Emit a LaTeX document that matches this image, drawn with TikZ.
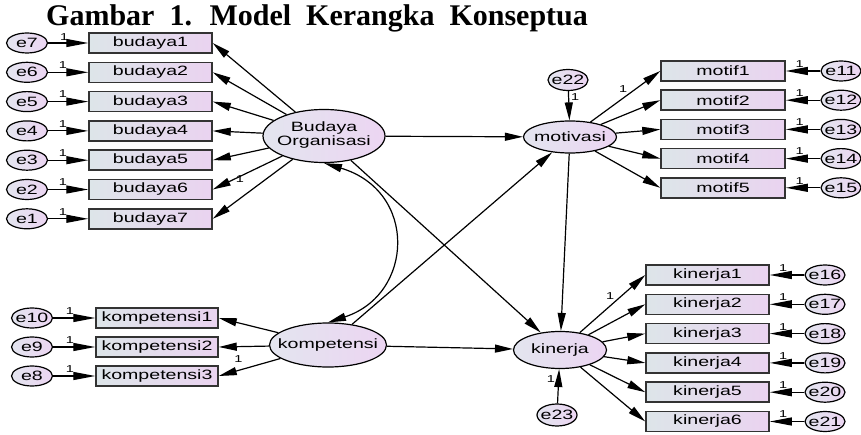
\documentclass[tikz,border=0pt]{standalone}
\usepackage{fontspec}
\setmainfont{Liberation Serif}
\newfontfamily\amosfont[FakeStretch=1.45]{Liberation Sans}
\usepackage{tikz}
\usetikzlibrary{arrows.meta}
\usetikzlibrary{shapes.geometric}
\definecolor{boxleft}{HTML}{DDE5E9}
\definecolor{boxright}{HTML}{EAD3F0}
\definecolor{ovalleft}{HTML}{E3E5EF}
\definecolor{ovalright}{HTML}{ECD5F2}
\definecolor{edgegrey}{HTML}{333333}
\newcommand{\ovaltext}[1]{\makebox[0pt]{#1}}
\tikzset{
  obs/.style={rectangle, draw=edgegrey, line width=1.5pt, left color=boxleft, right color=boxright,
    minimum width=123pt, minimum height=20pt, inner sep=0pt,
    font=\amosfont\fontsize{13.5}{15}\selectfont},
  lat/.style={ellipse, draw=black, line width=1.2pt, left color=ovalleft, right color=ovalright,
    inner sep=0pt, font=\amosfont\fontsize{13.5}{15}\selectfont},
  err/.style={lat, minimum width=41pt, minimum height=20pt},
  reg/.style={-{Triangle[length=18pt,width=8pt]}, line width=1.2pt},
  errarrow/.style={-{Triangle[length=22pt,width=8pt]}, line width=1.2pt},
  one/.style={font=\amosfont\fontsize{10}{11}\selectfont, inner sep=0pt}
}
\begin{document}
\begin{tikzpicture}[x=1pt, y=-1pt]
  \useasboundingbox (0,0) rectangle (861,435);

  \node [anchor=base west, inner sep=0pt, text depth=0pt, font=\fontsize{30}{32}\selectfont\bfseries] (title) at (46,26)
    {\spaceskip=15pt Gambar 1. Model Kerangka Konseptua};

  \node [lat, minimum width=122pt, minimum height=53pt] (budaya) at (324,136)
    {\ovaltext{\begin{tabular}{@{}c@{}}Budaya\\[-1pt]Organisasi\end{tabular}}};
  \node [lat, minimum width=117pt, minimum height=44pt] (komp) at (328,345) {\ovaltext{kompetensi}};
  \node [lat, minimum width=93pt, minimum height=32pt] (motivasi) at (570,137) {\ovaltext{motivasi}};
  \node [lat, minimum width=93pt, minimum height=37pt] (kinerja) at (560,350) {\ovaltext{kinerja}};

  \node [obs] (b1) at (150.5,43) {budaya1};
  \node [obs] (b2) at (150.5,72.3) {budaya2};
  \node [obs] (b3) at (150.5,101.6) {budaya3};
  \node [obs] (b4) at (150.5,130.9) {budaya4};
  \node [obs] (b5) at (150.5,160.2) {budaya5};
  \node [obs] (b6) at (150.5,189.5) {budaya6};
  \node [obs] (b7) at (150.5,218.8) {budaya7};

  \node [err] (e7) at (27,43) {\ovaltext{e7}};
  \node [err] (e6) at (27,72.3) {\ovaltext{e6}};
  \node [err] (e5) at (27,101.6) {\ovaltext{e5}};
  \node [err] (e4) at (27,130.9) {\ovaltext{e4}};
  \node [err] (e3) at (27,160.2) {\ovaltext{e3}};
  \node [err] (e2) at (27,189.5) {\ovaltext{e2}};
  \node [err] (e1) at (27,218.8) {\ovaltext{e1}};

  \node [obs, minimum width=122pt] (k1) at (157,318) {kompetensi1};
  \node [obs, minimum width=122pt] (k2) at (157,347) {kompetensi2};
  \node [obs, minimum width=122pt] (k3) at (157,376) {kompetensi3};

  \node [err] (e10) at (32,318) {\ovaltext{e10}};
  \node [err] (e9) at (32,347) {\ovaltext{e9}};
  \node [err] (e8) at (32,376) {\ovaltext{e8}};

  \node [obs, minimum width=124pt] (m1) at (723,71) {motif1};
  \node [obs, minimum width=124pt] (m2) at (723,100.2) {motif2};
  \node [obs, minimum width=124pt] (m3) at (723,129.4) {motif3};
  \node [obs, minimum width=124pt] (m4) at (723,158.6) {motif4};
  \node [obs, minimum width=124pt] (m5) at (723,187.8) {motif5};

  \node [err, minimum width=40pt] (e11) at (841,71) {\ovaltext{e11}};
  \node [err, minimum width=40pt] (e12) at (841,100.2) {\ovaltext{e12}};
  \node [err, minimum width=40pt] (e13) at (841,129.4) {\ovaltext{e13}};
  \node [err, minimum width=40pt] (e14) at (841,158.6) {\ovaltext{e14}};
  \node [err, minimum width=40pt] (e15) at (841,187.8) {\ovaltext{e15}};

  \node [obs] (p1) at (707.5,275) {kinerja1};
  \node [obs] (p2) at (707.5,304.3) {kinerja2};
  \node [obs] (p3) at (707.5,333.6) {kinerja3};
  \node [obs] (p4) at (707.5,362.9) {kinerja4};
  \node [obs] (p5) at (707.5,392.2) {kinerja5};
  \node [obs] (p6) at (707.5,421.5) {kinerja6};

  \node [err, minimum width=40pt] (e16) at (825,275) {\ovaltext{e16}};
  \node [err, minimum width=40pt] (e17) at (825,304.3) {\ovaltext{e17}};
  \node [err, minimum width=40pt] (e18) at (825,333.6) {\ovaltext{e18}};
  \node [err, minimum width=40pt] (e19) at (825,362.9) {\ovaltext{e19}};
  \node [err, minimum width=40pt] (e20) at (825,392.2) {\ovaltext{e20}};
  \node [err, minimum width=40pt] (e21) at (825,421.5) {\ovaltext{e21}};

  \node [err, minimum width=40pt, minimum height=21pt] (e22) at (568,80) {\ovaltext{e22}};
  \node [err, minimum width=40pt, minimum height=22pt] (e23) at (557,415) {\ovaltext{e23}};

  \draw [errarrow] (e7) -- node [one, pos=0.4, above=2pt] {1} (b1);
  \draw [errarrow] (e6) -- node [one, pos=0.37, above=3pt] {1} (b2);
  \draw [errarrow] (e5) -- node [one, pos=0.37, above=3pt] {1} (b3);
  \draw [errarrow] (e4) -- node [one, pos=0.37, above=3pt] {1} (b4);
  \draw [errarrow] (e3) -- node [one, pos=0.37, above=3pt] {1} (b5);
  \draw [errarrow] (e2) -- node [one, pos=0.37, above=3pt] {1} (b6);
  \draw [errarrow] (e1) -- node [one, pos=0.37, above=3pt] {1} (b7);

  \draw [errarrow] (e10) -- node [one, pos=0.4, above=3pt] {1} (k1);
  \draw [errarrow] (e9) -- node [one, pos=0.4, above=3pt] {1} (k2);
  \draw [errarrow] (e8) -- node [one, pos=0.4, above=3pt] {1} (k3);

  \draw [errarrow] (e11) -- node [one, pos=0.6, above=3pt] {1} (m1);
  \draw [errarrow] (e12) -- node [one, pos=0.6, above=3pt] {1} (m2);
  \draw [errarrow] (e13) -- node [one, pos=0.6, above=3pt] {1} (m3);
  \draw [errarrow] (e14) -- node [one, pos=0.6, above=3pt] {1} (m4);
  \draw [errarrow] (e15) -- node [one, pos=0.6, above=3pt] {1} (m5);

  \draw [errarrow] (e16) -- node [one, pos=0.61, above=3pt] {1} (p1);
  \draw [errarrow] (e17) -- node [one, pos=0.61, above=3pt] {1} (p2);
  \draw [errarrow] (e18) -- node [one, pos=0.61, above=3pt] {1} (p3);
  \draw [errarrow] (e19) -- node [one, pos=0.61, above=3pt] {1} (p4);
  \draw [errarrow] (e20) -- node [one, pos=0.61, above=3pt] {1} (p5);
  \draw [errarrow] (e21) -- node [one, pos=0.61, above=3pt] {1} (p6);

  \draw [reg] (budaya) -- (b1.east);
  \draw [reg] (budaya) -- (b2.east);
  \draw [reg] (budaya) -- (b3.east);
  \draw [reg] (budaya) -- (b4.east);
  \draw [reg] (budaya) -- (b5.east);
  \draw [reg] (budaya) -- node [one, pos=0.69, right=1pt] {1} (b6.east);
  \draw [reg] (budaya) -- (b7.east);

  \draw [reg] (komp) -- (k1.east);
  \draw [reg] (komp) -- (k2.east);
  \draw [reg] (komp) -- node [one, pos=0.68, above=7pt] {1} (k3.east);

  \draw [reg] (motivasi) -- node [one, pos=0.55, above left=1pt] {1} (m1.west);
  \draw [reg] (motivasi) -- (m2.west);
  \draw [reg] (motivasi) -- (m3.west);
  \draw [reg] (motivasi) -- (m4.west);
  \draw [reg] (motivasi) -- (m5.west);

  \draw [reg] (kinerja) -- node [one, pos=0.55, above left=1pt] {1} (p1.west);
  \draw [reg] (kinerja) -- (p2.west);
  \draw [reg] (kinerja) -- (p3.west);
  \draw [reg] (kinerja) -- (p4.west);
  \draw [reg] (kinerja) -- (p5.west);
  \draw [reg] (kinerja) -- (p6.west);

  \draw [reg] (e22) -- node [one, pos=0.2, right=2pt] {1} (motivasi);
  \draw [reg] (e23) -- node [one, pos=0.7, left=3pt] {1} (kinerja);

  \draw [reg] (budaya) -- (motivasi);
  \draw [reg] (budaya) -- (kinerja);
  \draw [reg] (komp) -- (motivasi);
  \draw [reg] (komp) -- (kinerja);
  \draw [reg] (motivasi) -- (kinerja);

  \draw [{Triangle[length=18pt,width=8pt]}-{Triangle[length=18pt,width=8pt]}, line width=1.2pt]
    (budaya.south) .. controls +(94,28) and +(86,-28) .. (komp.north);
\end{tikzpicture}
\end{document}
